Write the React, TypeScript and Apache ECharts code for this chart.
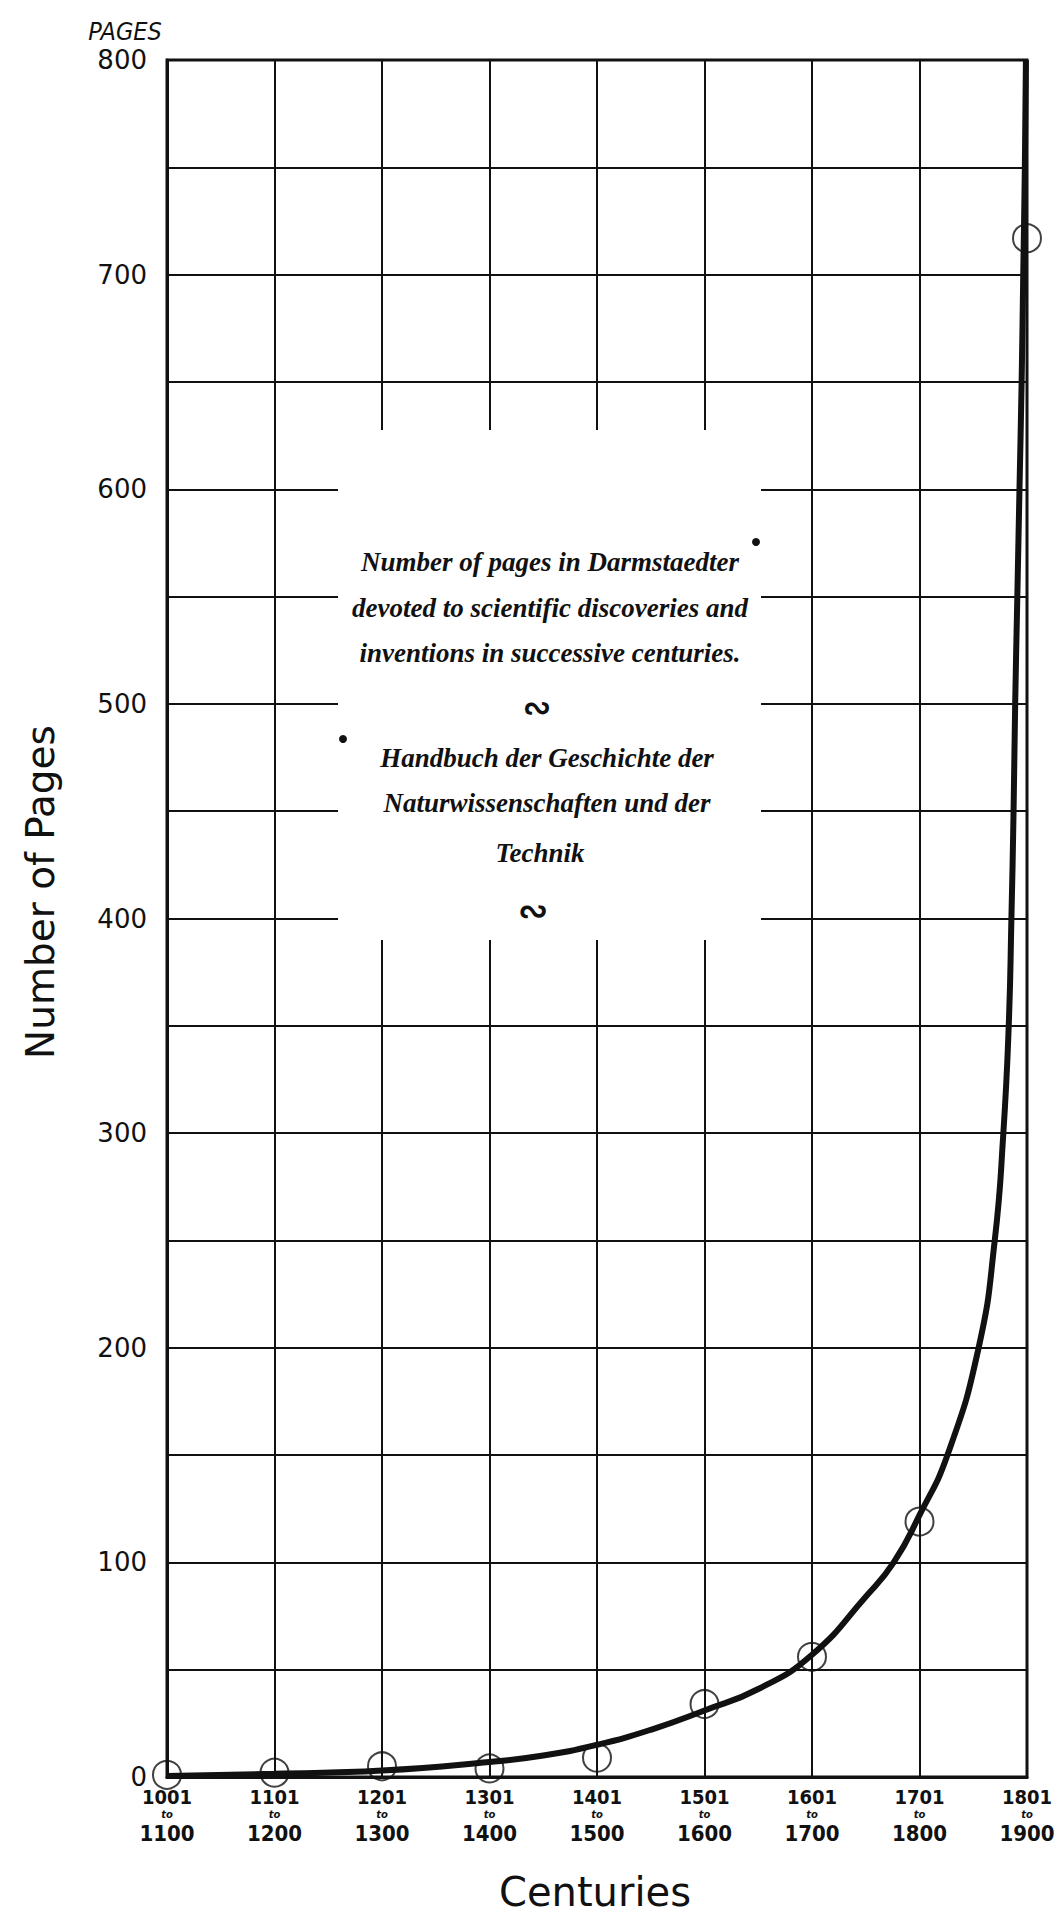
import React, { useEffect, useRef } from "react";
import * as echarts from "echarts";

// Centuries (x axis categories)
const centuryStart = ["1001", "1101", "1201", "1301", "1401", "1501", "1601", "1701", "1801"];
const centuryEnd = ["1100", "1200", "1300", "1400", "1500", "1600", "1700", "1800", "1900"];
// Plotted observations (open circles): pages per century
const pagesValues = [1, 2, 5, 4, 9, 34, 56, 119, 717];
// Fitted curve (x in century index, y in pages)
const curveX = [0, 1, 2, 3, 3.5, 4, 4.5, 5, 5.5, 6, 6.5, 6.76, 7, 7.26, 7.55, 7.7, 7.78, 7.83, 7.855, 7.875, 7.89, 7.91, 7.93, 7.95, 7.965, 7.98, 7.99];
const curveY = [0.5, 1.5, 3, 7, 10, 15, 22, 31, 41, 57, 84, 100, 122, 150, 200, 250, 300, 350, 400, 450, 500, 550, 600, 650, 700, 750, 800];
// Y tick labels
const yTickLabels = [0, 100, 200, 300, 400, 500, 600, 700, 800];

const boxLines = [
  "Number of pages in Darmstaedter",
  "devoted to scientific discoveries and",
  "inventions in successive centuries.",
  "Handbuch der Geschichte der",
  "Naturwissenschaften und der",
  "Technik",
];

export default function App() {
  const ref = useRef<HTMLDivElement>(null);
  useEffect(() => {
    const chart = echarts.init(ref.current!, null, { renderer: "svg" });
    const ink = "#111";
    const boxFont = { fontFamily: "Liberation Serif", fontStyle: "italic", fontWeight: "bold", fontSize: 27, fill: ink };
    const boxYs = [562, 608, 653, 758, 803, 853];
    const boxXs = [550, 550, 550, 547, 547, 540];
    const boxTexts = boxLines.map((t, i) => ({
      type: "text",
      x: boxXs[i],
      y: boxYs[i],
      z: 11,
      style: { ...boxFont, text: t, textAlign: "center", textVerticalAlign: "middle" },
    }));
    chart.setOption({
      animation: false,
      backgroundColor: "#fff",
      grid: {
        left: 167,
        right: 34,
        top: 60,
        bottom: 137,
        show: true,
        borderColor: ink,
        borderWidth: 3,
        backgroundColor: "transparent",
      },
      xAxis: {
        type: "value",
        min: 0,
        max: 8,
        interval: 1,
        axisLine: { show: true, lineStyle: { color: ink, width: 3 } },
        axisTick: { show: false },
        splitLine: { show: true, lineStyle: { color: ink, width: 2 } },
        axisLabel: {
          margin: 9,
          formatter: (v: number) => `{a|${centuryStart[v]}}\n{b|to}\n{c|${centuryEnd[v]}}`,
          rich: {
            a: { fontFamily: "DejaVu Sans Condensed", fontWeight: "bold", fontSize: 20, color: ink, lineHeight: 22 },
            b: { fontFamily: "DejaVu Sans", fontStyle: "italic", fontWeight: "bold", fontSize: 10, color: ink, lineHeight: 13 },
            c: { fontFamily: "DejaVu Sans Condensed", fontWeight: "bold", fontSize: 22, color: ink, lineHeight: 24 },
          },
        },
      },
      yAxis: {
        type: "value",
        min: 0,
        max: 800,
        interval: 50,
        axisLine: { show: true, lineStyle: { color: ink, width: 3 } },
        axisTick: { show: false },
        splitLine: { show: true, lineStyle: { color: ink, width: 2 } },
        axisLabel: {
          margin: 20,
          fontFamily: "DejaVu Sans",
          fontSize: 26,
          color: ink,
          formatter: (v: number) => (yTickLabels.includes(v) ? String(v) : ""),
        },
      },
      graphic: [
        { type: "rect", z: 10, shape: { x: 338, y: 430, width: 423, height: 510 }, style: { fill: "#fff" } },
        ...boxTexts,
        { type: "circle", z: 11, shape: { cx: 756, cy: 542, r: 4 }, style: { fill: ink } },
        { type: "circle", z: 11, shape: { cx: 343, cy: 739, r: 4 }, style: { fill: ink } },
        { type: "text", x: 537, y: 707, z: 11, style: { text: "∾", fontFamily: "DejaVu Sans", fontSize: 34, fontWeight: "bold", fill: ink, textAlign: "center", textVerticalAlign: "middle" } },
        { type: "text", x: 533, y: 910, z: 11, style: { text: "∾", fontFamily: "DejaVu Sans", fontSize: 36, fontWeight: "bold", fill: ink, textAlign: "center", textVerticalAlign: "middle" } },
        { type: "text", x: 125, y: 31, style: { text: "PAGES", fontFamily: "DejaVu Sans Condensed", fontStyle: "italic", fontSize: 25, fill: ink, textAlign: "center", textVerticalAlign: "middle" } },
        { type: "text", x: 40, y: 892, rotation: Math.PI / 2, style: { text: "Number of Pages", fontFamily: "DejaVu Sans", fontSize: 39, fill: ink, textAlign: "center", textVerticalAlign: "middle" } },
        { type: "text", x: 595, y: 1892, style: { text: "Centuries", fontFamily: "DejaVu Sans", fontSize: 40, fill: ink, textAlign: "center", textVerticalAlign: "middle" } },
      ],
      series: [
        {
          type: "scatter",
          z: 3,
          symbol: "circle",
          symbolSize: 28,
          data: pagesValues.map((v, i) => [i, v]),
          itemStyle: { color: "rgba(0,0,0,0)", borderColor: ink, borderWidth: 2 },
        },
        {
          type: "line",
          z: 4,
          data: curveX.map((x, i) => [x, curveY[i]]),
          showSymbol: false,
          smooth: 0.5,
          clip: false,
          lineStyle: { color: ink, width: 6 },
        },
      ],
    });
    return () => chart.dispose();
  }, []);
  return <div ref={ref} style={{ position: "absolute", left: 0, top: 0, width: 1061, height: 1914 }} />;
}
